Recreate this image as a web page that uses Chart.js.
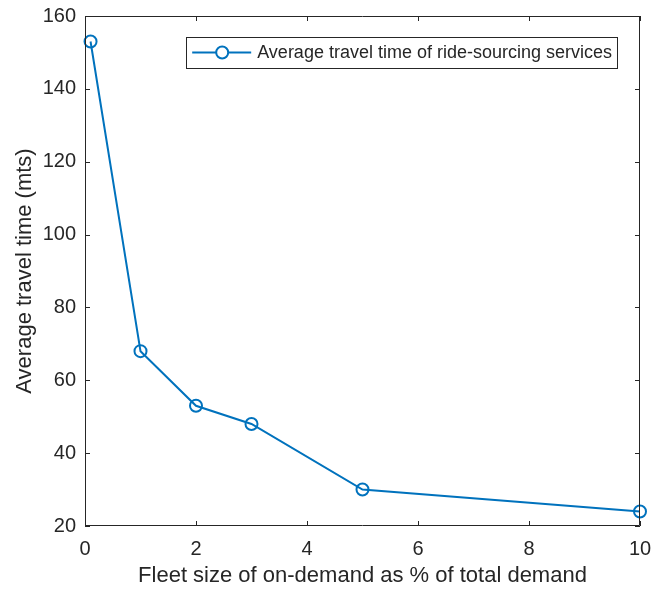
<!DOCTYPE html>
<html>
<head>
<meta charset="utf-8">
<script src="https://cdn.jsdelivr.net/npm/chart.js@4"></script>
<style>
  html, body { margin: 0; padding: 0; background: #fff; }
  #wrap { width: 662px; height: 589px; }
</style>
</head>
<body>
<div id="wrap"><canvas id="travelChart" width="662" height="589"></canvas></div>
<script>
// fleet size (% of total demand) and average travel time (minutes)
const fleetSize = [0.1, 1, 2, 3, 5, 10];
const travelTime = [153, 68, 53, 48, 30, 24];
const xTicks = [0, 2, 4, 6, 8, 10];
const yTicks = [20, 40, 60, 80, 100, 120, 140, 160];

const seriesLabel = 'Average travel time of ride-sourcing services';
const lineColor = '#0072BD';
const axisColor = '#262626';
const fontFamily = '"Liberation Sans", Arial, Helvetica, sans-serif';

// box around the plot plus inward tick marks on all four sides (matlab style)
const boxPlugin = {
    id: 'matlabBox',
    afterDraw(chart) {
        const ctx = chart.ctx;
        const a = chart.chartArea;
        const xs = chart.scales.x;
        const ys = chart.scales.y;
        const tl = 5;
        ctx.save();
        ctx.strokeStyle = axisColor;
        ctx.lineWidth = 1;
        ctx.beginPath();
        ctx.rect(a.left + 0.5, a.top + 0.5, a.right - a.left - 1, a.bottom - a.top - 1);
        xTicks.forEach(v => {
            const px = Math.round(xs.getPixelForValue(v)) + 0.5;
            ctx.moveTo(px, a.bottom);
            ctx.lineTo(px, a.bottom - tl);
            ctx.moveTo(px, a.top);
            ctx.lineTo(px, a.top + tl);
        });
        yTicks.forEach(v => {
            const py = Math.round(ys.getPixelForValue(v)) + 0.5;
            ctx.moveTo(a.left, py);
            ctx.lineTo(a.left + tl, py);
            ctx.moveTo(a.right, py);
            ctx.lineTo(a.right - tl, py);
        });
        ctx.stroke();
        ctx.restore();
    }
};

// legend drawn as a boxed entry in the upper right corner
const legendPlugin = {
    id: 'boxLegend',
    afterDraw(chart) {
        const ctx = chart.ctx;
        const a = chart.chartArea;
        const ds = chart.data.datasets[0];
        ctx.save();
        ctx.font = '18px ' + fontFamily;
        const tw = ctx.measureText(ds.label).width;
        const w = tw + 76;
        const h = 31;
        const right = a.right - 23;
        const left = right - w;
        const top = a.top + 21;
        ctx.fillStyle = '#fff';
        ctx.fillRect(left, top, w, h);
        ctx.strokeStyle = axisColor;
        ctx.lineWidth = 1;
        ctx.strokeRect(Math.round(left) + 0.5, top + 0.5, Math.round(w), h);
        const cy = top + h / 2;
        ctx.strokeStyle = ds.borderColor;
        ctx.lineWidth = 2;
        ctx.beginPath();
        ctx.moveTo(left + 6, cy);
        ctx.lineTo(left + 65, cy);
        ctx.stroke();
        ctx.beginPath();
        ctx.arc(left + 36, cy, 6, 0, Math.PI * 2);
        ctx.fillStyle = '#fff';
        ctx.fill();
        ctx.stroke();
        ctx.fillStyle = axisColor;
        ctx.textBaseline = 'middle';
        ctx.fillText(ds.label, left + 71, cy + 1);
        ctx.restore();
    }
};

const ctx = document.getElementById('travelChart').getContext('2d');
const chart = new Chart(ctx, {
    type: 'line',
    data: {
        datasets: [{
            label: seriesLabel,
            data: fleetSize.map((x, i) => ({ x: x, y: travelTime[i] })),
            borderColor: lineColor,
            backgroundColor: '#fff',
            borderWidth: 2,
            pointRadius: 6,
            pointBorderWidth: 2,
            pointBackgroundColor: 'rgba(255,255,255,0)',
            pointBorderColor: lineColor,
            tension: 0,
            fill: false,
            clip: false
        }]
    },
    options: {
        responsive: false,
        animation: false,
        devicePixelRatio: 1,
        layout: { padding: { top: 16, right: 22, left: 0, bottom: 0 } },
        plugins: {
            legend: { display: false },
            tooltip: { enabled: false }
        },
        scales: {
            x: {
                type: 'linear',
                min: 0,
                max: 10,
                afterFit: s => { s.height = 63; s.paddingLeft = 0; s.paddingRight = 0; },
                afterBuildTicks: s => { s.ticks = xTicks.map(v => ({ value: v })); },
                grid: { display: false, drawTicks: false },
                border: { display: false },
                ticks: {
                    padding: 11,
                    color: axisColor,
                    maxRotation: 0,
                    font: { family: fontFamily, size: 20 }
                },
                title: {
                    display: true,
                    text: 'Fleet size of on-demand as % of total demand',
                    color: axisColor,
                    padding: { top: 3, bottom: 0 },
                    font: { family: fontFamily, size: 22 }
                }
            },
            y: {
                type: 'linear',
                min: 20,
                max: 160,
                afterFit: s => { s.width = 85; s.paddingTop = 0; s.paddingBottom = 0; },
                afterBuildTicks: s => { s.ticks = yTicks.map(v => ({ value: v })); },
                grid: { display: false, drawTicks: false },
                border: { display: false },
                ticks: {
                    padding: 9,
                    color: axisColor,
                    font: { family: fontFamily, size: 20 }
                },
                title: {
                    display: true,
                    text: 'Average travel time (mts)',
                    color: axisColor,
                    padding: { top: 12, bottom: 0 },
                    font: { family: fontFamily, size: 22 }
                }
            }
        }
    },
    plugins: [boxPlugin, legendPlugin]
});
</script>
</body>
</html>
